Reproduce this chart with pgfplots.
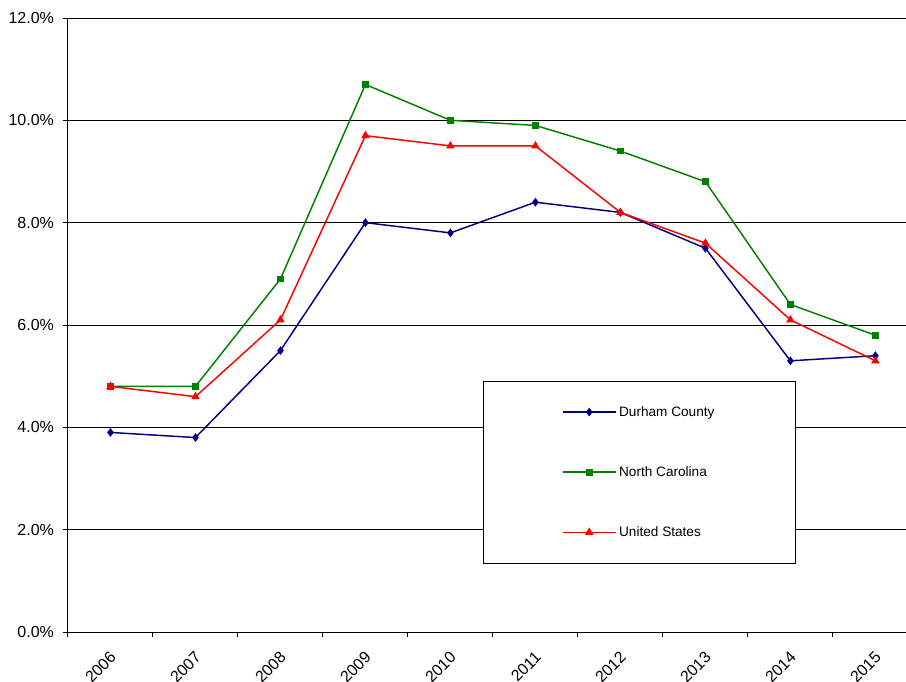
\documentclass[border=0pt]{standalone}
\usepackage{pgfplots}
\pgfplotsset{compat=1.18}
\usepackage{fontspec}
\setmainfont{Liberation Sans}
\definecolor{durham}{HTML}{000080}
\definecolor{ncgreen}{HTML}{008000}
\definecolor{usred}{HTML}{FF0000}
\begin{document}
\begin{tikzpicture}
\begin{axis}[
  scale only axis,
  width=628.5pt, height=460.5pt,
  xmin=-0.5, xmax=9.36,
  ymin=0, ymax=12,
  axis x line=bottom, axis y line=left,
  axis line style={-, black, line width=0.7pt},
  xtick={0,...,9},
  xticklabels={2006,2007,2008,2009,2010,2011,2012,2013,2014,2015},
  major x tick style={draw=none},
  minor xtick={-0.5,0.5,...,8.5},
  minor x tick style={black, line width=0.7pt},
  minor tick length=4pt,
  ytick={0,2,...,12},
  major tick length=4pt,
  tick align=outside,
  tick style={black, line width=0.7pt},
  ymajorgrids,
  major grid style={black, line width=0.7pt},
  /pgf/number format/assume math mode=true,
  yticklabel={\pgfmathprintnumber[fixed,fixed zerofill,precision=1]{\tick}\%},
  ticklabel style={font=\fontsize{12}{14}\selectfont},
  yticklabel style={xshift=-3pt},
  xticklabel style={rotate=45, anchor=north east, xshift=-4.2pt, yshift=-2.8pt},
  legend style={at={(0.495,0.409)}, anchor=north west, draw=black, line width=0.7pt,
    fill=white, font=\fontsize{10.2}{12}\selectfont, inner xsep=59pt, inner ysep=16.6pt,
    row sep=32.2pt},
  legend cell align=left,
  legend image code/.code={
    \draw[line width=1.1pt, mark repeat=2, mark phase=2] plot coordinates {(0cm,0cm) (0.7cm,0cm) (1.4cm,0cm)};},
]
\addplot[durham, line width=1.1pt, mark=diamond*, mark size=2.4pt] coordinates {
(0,3.9) (1,3.8) (2,5.5) (3,8.0) (4,7.8) (5,8.4) (6,8.2) (7,7.5) (8,5.3) (9,5.4)};
\addlegendentry{Durham County}
\addplot[ncgreen, line width=1.1pt, mark=square*, mark size=2pt] coordinates {
(0,4.8) (1,4.8) (2,6.9) (3,10.7) (4,10.0) (5,9.9) (6,9.4) (7,8.8) (8,6.4) (9,5.8)};
\addlegendentry{North Carolina}
\addplot[usred, line width=1.1pt, mark=triangle*, mark size=2.6pt] coordinates {
(0,4.8) (1,4.6) (2,6.1) (3,9.7) (4,9.5) (5,9.5) (6,8.2) (7,7.6) (8,6.1) (9,5.3)};
\addlegendentry{United States}
\coordinate (bbl) at (rel axis cs:-0.0811,-0.0798);
\coordinate (btr) at (rel axis cs:1.0,1.0293);
\end{axis}
\pgfresetboundingbox
\useasboundingbox (bbl) rectangle (btr);
\end{tikzpicture}
\end{document}
